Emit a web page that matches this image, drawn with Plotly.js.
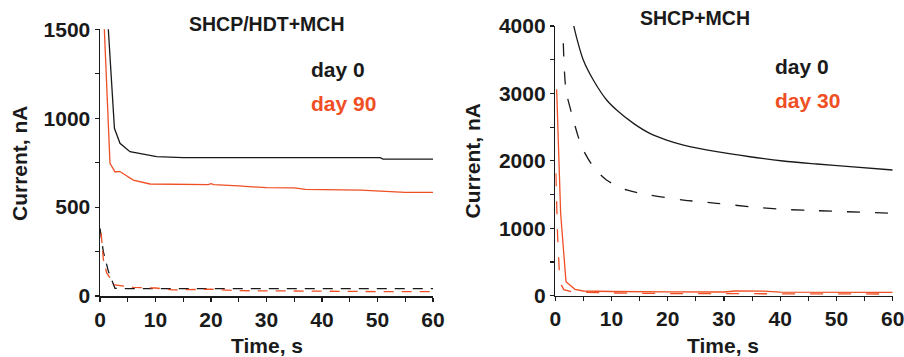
<!DOCTYPE html>
<html><head><meta charset="utf-8">
<script src="https://cdn.plot.ly/plotly-3.0.1.min.js"></script>
<style>html,body{margin:0;padding:0;background:#fff}#c{width:904px;height:357px}</style>
</head><body><div id="c"></div>
<script>
// Left panel: SHCP/HDT+MCH
const leftSolidDay0T = [1.4, 1.5, 2.6, 3.6, 5.4, 7.8, 10.2, 15, 20, 30, 40, 50.5, 51, 60];
const leftSolidDay0I = [1700, 1500, 943, 859, 812, 796, 784, 778, 778, 778, 778, 778, 770, 770];
const leftSolidDay90T = [0.6, 0.78, 1.8, 2.7, 3.6, 6, 9, 15, 19.5, 20, 20.5, 25, 30, 35, 37, 47, 55, 60];
const leftSolidDay90I = [1700, 1500, 746, 699, 700, 652, 630, 626, 626, 632, 626, 619, 609, 608, 600, 596, 583, 583];
const leftDashDay0T = [0, 0.6, 1.5, 2.7, 5, 10, 20, 30, 40, 50, 60];
const leftDashDay0I = [381, 250, 140, 43, 41, 41, 41, 41, 41, 41, 41];
const leftDashDay90T = [0.2, 0.6, 1.2, 2.7, 6, 10, 13, 20, 25, 30, 40, 50, 60];
const leftDashDay90I = [354, 206, 130, 62, 49, 45, 34, 38, 30, 28, 27, 25, 24];
// Right panel: SHCP+MCH
const rightSolidDay0T = [2.9, 3.2, 4.98, 6.76, 9.13, 10.9, 13.9, 16.8, 19.8, 22.8, 28.7, 34.6, 40.5, 46.5, 52.4, 60];
const rightSolidDay0I = [4300, 4040, 3495, 3199, 2902, 2754, 2556, 2408, 2309, 2235, 2136, 2061, 1998, 1953, 1913, 1864];
const rightDashDay0T = [1.42, 1.9, 2.9, 4.7, 6.76, 9.1, 12.7, 16.8, 22.8, 28.7, 34.6, 40.5, 46.5, 60];
const rightDashDay0I = [3743, 3050, 2705, 2210, 1913, 1716, 1568, 1493, 1419, 1370, 1320, 1281, 1261, 1222];
const rightSolidDay30T = [0.24, 0.95, 1.9, 3.5, 4.98, 10, 20, 30, 32, 37, 40, 50, 60];
const rightSolidDay30I = [3060, 1222, 208, 95, 70, 62, 58, 55, 70, 68, 52, 50, 50];
const rightDashDay30T = [0.1, 0.4, 0.8, 1.5, 3, 10, 20, 30, 40, 50, 60];
const rightDashDay30I = [1815, 900, 208, 90, 55, 40, 32, 28, 26, 25, 25];

const BLACK = '#1a1a1a', ORANGE = '#f04e23';
const solid = (c) => ({color: c, width: 1.3});
const dashL = (c) => ({color: c, width: 1.3, dash: '10px,8px'});
const dashR = (c) => ({color: c, width: 1.3, dash: '13px,15px'});

const traces = [
  {x: leftDashDay0T, y: leftDashDay0I, xaxis: 'x', yaxis: 'y', mode: 'lines', line: dashL(BLACK)},
  {x: leftDashDay90T, y: leftDashDay90I, xaxis: 'x', yaxis: 'y', mode: 'lines', line: dashL(ORANGE)},
  {x: leftSolidDay0T, y: leftSolidDay0I, xaxis: 'x', yaxis: 'y', mode: 'lines', line: solid(BLACK)},
  {x: leftSolidDay90T, y: leftSolidDay90I, xaxis: 'x', yaxis: 'y', mode: 'lines', line: solid(ORANGE)},
  {x: rightDashDay0T, y: rightDashDay0I, xaxis: 'x2', yaxis: 'y2', mode: 'lines', line: Object.assign(dashR(BLACK), {shape: 'spline', smoothing: 0.8})},
  {x: rightDashDay30T, y: rightDashDay30I, xaxis: 'x2', yaxis: 'y2', mode: 'lines', line: dashR(ORANGE)},
  {x: rightSolidDay0T, y: rightSolidDay0I, xaxis: 'x2', yaxis: 'y2', mode: 'lines', line: Object.assign(solid(BLACK), {shape: 'spline', smoothing: 0.8})},
  {x: rightSolidDay30T, y: rightSolidDay30I, xaxis: 'x2', yaxis: 'y2', mode: 'lines', line: solid(ORANGE)}
];

const F = 'Liberation Sans, Arial, sans-serif';
const tickFont = {family: F, size: 21, color: BLACK, weight: 'bold'};
function ax(extra) {
  return Object.assign({
    showgrid: false, zeroline: false, showline: true, linecolor: BLACK, linewidth: 1.5,
    ticks: 'outside', ticklen: 4, tickwidth: 1.2, tickcolor: BLACK,
    tickfont: tickFont, automargin: false, fixedrange: true, ticklabeloverflow: 'allow'
  }, extra);
}
const H = 357;
const layout = {
  width: 904, height: 357, margin: {l: 0, r: 0, t: 0, b: 0},
  paper_bgcolor: '#fff', plot_bgcolor: '#fff', showlegend: false,
  font: {family: F, color: BLACK},
  xaxis: ax({domain: [100/904, 433/904], range: [0, 60], dtick: 10, anchor: 'y',
    minor: {dtick: 5, ticks: 'outside', ticklen: 4, tickcolor: BLACK}}),
  yaxis: ax({domain: [(H-296)/H, (H-29.3)/H], range: [0, 1500], dtick: 500, anchor: 'x',
    minor: {dtick: 250, ticks: 'outside', ticklen: 4, tickcolor: BLACK}}),
  xaxis2: ax({domain: [555.3/904, 892.7/904], range: [0, 60], dtick: 10, anchor: 'y2',
    minor: {dtick: 5, ticks: 'outside', ticklen: 4, tickcolor: BLACK}}),
  yaxis2: ax({domain: [(H-295.7)/H, (H-26)/H], range: [0, 4000], dtick: 1000, anchor: 'x2',
    minor: {dtick: 500, ticks: 'outside', ticklen: 4, tickcolor: BLACK}}),
  annotations: [
    {text: 'SHCP/HDT+MCH', x: 266.7/904, y: (H-23.7)/H, xref: 'paper', yref: 'paper', showarrow: false, xanchor: 'center', yanchor: 'middle', font: {family: F, size: 19.5, weight: 'bold', color: BLACK}},
    {text: 'day 0', x: 309/904, y: (H-70)/H, xref: 'paper', yref: 'paper', showarrow: false, xanchor: 'left', yanchor: 'middle', font: {family: F, size: 21, weight: 'bold', color: BLACK}},
    {text: 'day 90', x: 309/904, y: (H-104)/H, xref: 'paper', yref: 'paper', showarrow: false, xanchor: 'left', yanchor: 'middle', font: {family: F, size: 21, weight: 'bold', color: ORANGE}},
    {text: 'SHCP+MCH', x: 694.8/904, y: (H-18.3)/H, xref: 'paper', yref: 'paper', showarrow: false, xanchor: 'center', yanchor: 'middle', font: {family: F, size: 19.5, weight: 'bold', color: BLACK}},
    {text: 'day 0', x: 773/904, y: (H-66.7)/H, xref: 'paper', yref: 'paper', showarrow: false, xanchor: 'left', yanchor: 'middle', font: {family: F, size: 21, weight: 'bold', color: BLACK}},
    {text: 'day 30', x: 773/904, y: (H-100)/H, xref: 'paper', yref: 'paper', showarrow: false, xanchor: 'left', yanchor: 'middle', font: {family: F, size: 21, weight: 'bold', color: ORANGE}},
    {text: 'Current, nA', x: 19/904, y: (H-163)/H, xref: 'paper', yref: 'paper', showarrow: false, textangle: -90, xanchor: 'center', yanchor: 'middle', font: {family: F, size: 21, weight: 'bold', color: BLACK}},
    {text: 'Current, nA', x: 472.5/904, y: (H-161)/H, xref: 'paper', yref: 'paper', showarrow: false, textangle: -90, xanchor: 'center', yanchor: 'middle', font: {family: F, size: 21, weight: 'bold', color: BLACK}},
    {text: 'Time, s', x: 266.7/904, y: (H-345)/H, xref: 'paper', yref: 'paper', showarrow: false, xanchor: 'center', yanchor: 'middle', font: {family: F, size: 21, weight: 'bold', color: BLACK}},
    {text: 'Time, s', x: 723/904, y: (H-345)/H, xref: 'paper', yref: 'paper', showarrow: false, xanchor: 'center', yanchor: 'middle', font: {family: F, size: 21, weight: 'bold', color: BLACK}}
  ]
};
Plotly.newPlot('c', traces, layout, {displayModeBar: false, staticPlot: true});
</script></body></html>
